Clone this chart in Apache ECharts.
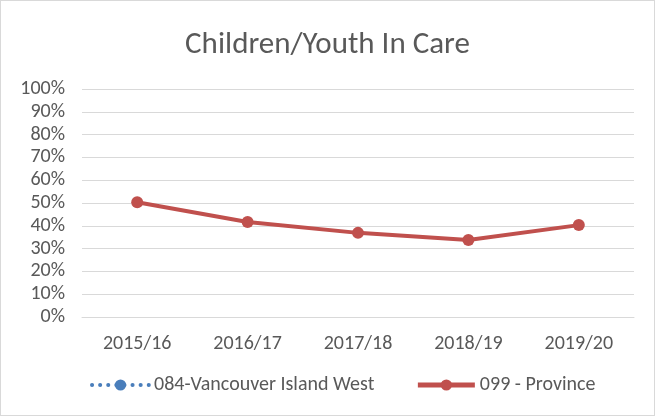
<!DOCTYPE html>
<html><head><meta charset="utf-8">
<script src="https://cdn.jsdelivr.net/npm/echarts@6/dist/echarts.min.js"></script>
<style>html,body{margin:0;padding:0;background:#fff}#c{width:655px;height:416px;box-sizing:border-box;border:1px solid #d9d9d9}</style>
</head><body><div id="c"></div>
<script>
const categories = ['2015/16','2016/17','2017/18','2018/19','2019/20'];
const vancouverIslandWest = [null,null,null,null,null];
const province = [50.3,41.7,36.9,33.8,40.3];
const yTicks = {min:0,max:100,interval:10};

const chart = echarts.init(document.getElementById('c'));
const font = 'Calibri, Carlito, "Liberation Sans", "Open Sans", sans-serif';
chart.setOption({
  animation:false,
  title:{text:'Children/Youth In Care',left:'center',top:24,textStyle:{fontFamily:font,fontSize:31,fontWeight:'normal',color:'#595959'}},
  grid:{left:81,right:20,top:88,bottom:98},
  xAxis:{type:'category',data:categories,boundaryGap:true,
    axisLine:{lineStyle:{color:'#d9d9d9'}},axisTick:{show:false},
    axisLabel:{fontFamily:font,fontSize:20,color:'#595959',margin:17}},
  yAxis:{type:'value',min:yTicks.min,max:yTicks.max,interval:yTicks.interval,
    axisLine:{show:false},axisTick:{show:false},
    splitLine:{lineStyle:{color:'#d9d9d9',width:1}},
    axisLabel:{fontFamily:font,fontSize:20,color:'#595959',formatter:'{value}%',margin:17}},
  legend:{bottom:15,left:84,itemGap:41,itemWidth:57,itemHeight:14,
    textStyle:{fontFamily:font,fontSize:20,color:'#595959'},
    data:[
      {name:'084-Vancouver Island West',lineStyle:{width:4,type:[0.1,8],cap:'round'}},
      {name:'099 - Province',lineStyle:{width:5}}
    ]},
  series:[
    {name:'084-Vancouver Island West',type:'line',data:vancouverIslandWest,symbol:'circle',symbolSize:10,
      itemStyle:{color:'#4a7ebb'},lineStyle:{color:'#4a7ebb',width:3,type:'dotted'}},
    {name:'099 - Province',type:'line',data:province,symbol:'circle',symbolSize:12,
      itemStyle:{color:'#c0504d'},lineStyle:{color:'#c0504d',width:4}}
  ]
});
</script></body></html>
